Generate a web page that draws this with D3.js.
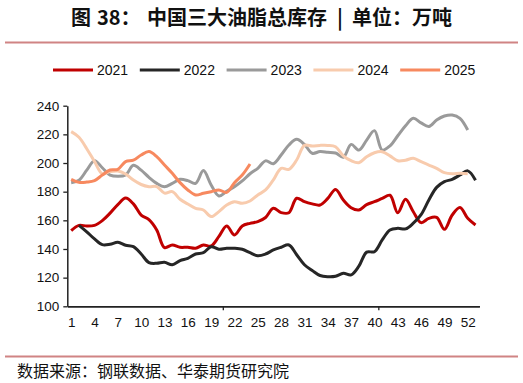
<!DOCTYPE html>
<html>
<head>
<meta charset="utf-8">
<script src="https://cdn.jsdelivr.net/npm/d3@7"></script>
<style>
  body { margin: 0; background: #fff; }
  svg { display: block; font-family: "Liberation Sans", Arial, sans-serif; }
</style>
</head>
<body>
<svg width="523" height="383"></svg>
<script>
// weekly stocks, 10k tonnes
var weeks = d3.range(1, 54);
var years = ["2021", "2022", "2023", "2024", "2025"];
var colors = ["#c00000", "#262626", "#9a9a9a", "#f8cbad", "#f7895f"];
var tickWeeks = [1, 4, 7, 10, 13, 16, 19, 22, 25, 28, 31, 34, 37, 40, 43, 46, 49, 52];
var yTicks = [100, 120, 140, 160, 180, 200, 220, 240];

var s2021 = [152.8, 156.5, 156, 156.5, 159.8, 165, 171, 175.5, 171.5, 163.7, 160.5, 153.3, 141, 142.8, 141.2, 141.2, 140.5, 142.8, 142.1, 148.8, 156.1, 149.8, 156.1, 157.9, 159.1, 162, 168.4, 165.4, 165.3, 175.4, 173, 171.5, 170.7, 175.3, 181.6, 174.2, 168.8, 167.2, 171, 173, 175.3, 177.5, 165.3, 174.7, 166, 158.4, 161.4, 162, 153.7, 163.7, 169, 161.4, 156.7];
var s2022 = [null, 156.5, 152, 147, 143, 143.3, 144.7, 142.6, 141.6, 136.5, 130.5, 130, 130.7, 129, 131.9, 133.5, 136.5, 137.4, 141.6, 139.8, 140.5, 140.5, 139.8, 137.4, 135.3, 136.5, 139.3, 141.2, 142.8, 136, 129, 125, 121.5, 120.7, 121, 123, 121.9, 128, 137.8, 138.1, 146.3, 153.3, 154.4, 154, 158, 164, 174.2, 183, 187, 188.6, 191.6, 194.5, 188];
var s2023 = [186.3, 188, 195, 201.6, 196.7, 191.6, 190.7, 191.6, 198.4, 195, 190, 185.8, 183.5, 185.8, 188.6, 187.7, 185.8, 194.7, 184.7, 177, 180.3, 183.5, 187.5, 192.5, 196.3, 201.5, 199.5, 205.6, 212.6, 216.5, 213, 206.8, 208, 207.5, 207, 204, 213, 209, 216, 222.6, 209, 212, 219, 226, 231.2, 228, 225.5, 230, 232.8, 233.5, 231.2, 223, null];
var s2024 = [221.9, 218, 210, 201, 192.5, 194, 194.4, 192.3, 188.1, 185, 183.5, 183.5, 179, 180, 174.7, 171.4, 168.4, 167.2, 162.6, 166.1, 170.7, 173, 171.9, 173.5, 177.7, 181.2, 188.2, 196.3, 195.6, 202.1, 212.3, 211.9, 212.3, 212.3, 211.4, 205, 201.6, 200.2, 204.4, 207.2, 207.9, 205, 201.6, 202, 203.3, 200.9, 198.6, 196.3, 193.3, 192.5, 192.8, 192.5, null];
var s2025 = [188.6, 186.5, 186.7, 187.7, 191.6, 195.1, 195.6, 201, 202, 205.6, 208, 204.5, 198.6, 192.8, 186.3, 181.2, 177.7, 178.9, 180, 181.2, 179.5, 186.3, 191.6, 199.3];
var series = [s2021, s2022, s2023, s2024, s2025];

var svg = d3.select("svg");
var cjk = '"Noto Sans CJK SC", "Liberation Sans", sans-serif';

// title, pieces placed so the gaps match
var title = svg.append("text")
  .attr("y", 25)
  .style("font-family", cjk)
  .style("font-size", "20px")
  .style("font-weight", "bold")
  .attr("fill", "#111");
title.append("tspan").attr("x", 71).text("图");
title.append("tspan").attr("x", 97).text("38：");
title.append("tspan").attr("x", 147).text("中国三大油脂总库存");
title.append("tspan").attr("x", 337).text("|");
title.append("tspan").attr("x", 352).text("单位：万吨");

svg.append("line").attr("x1", 5).attr("x2", 518).attr("y1", 42.5).attr("y2", 42.5)
  .attr("stroke", "#d08484").attr("stroke-width", 2);
svg.append("line").attr("x1", 5).attr("x2", 518).attr("y1", 356.5).attr("y2", 356.5)
  .attr("stroke", "#d08484").attr("stroke-width", 2);

svg.append("text")
  .attr("x", 17).attr("y", 377)
  .style("font-family", cjk)
  .style("font-size", "16px")
  .attr("fill", "#111")
  .text("数据来源：钢联数据、华泰期货研究院");

// scales
var x = d3.scaleLinear().domain([0.5, 53.5]).range([67.3, 479.4]);
var y = d3.scaleLinear().domain([100, 240]).range([306.3, 105.7]);

svg.append("g").attr("transform", "translate(67.3,0)")
  .call(d3.axisLeft(y).tickValues(yTicks).tickSize(4).tickSizeOuter(0).tickPadding(4));
svg.append("g").attr("transform", "translate(0,306.3)")
  .call(d3.axisBottom(x).tickValues(tickWeeks).tickSize(0).tickSizeOuter(0).tickPadding(11));
svg.append("g").attr("transform", "translate(0,306.3)")
  .call(d3.axisBottom(x).tickValues([20.5, 40.5]).tickFormat("").tickSize(4).tickSizeOuter(0));

svg.selectAll(".domain").attr("stroke", "#222").attr("stroke-width", 1.5);
svg.selectAll(".tick line").attr("stroke", "#222").attr("stroke-width", 1.3);
svg.selectAll(".tick text").style("font-size", "13.5px").attr("fill", "#111")
  .style("font-family", '"Liberation Sans", Arial, sans-serif');

// lines
var line = d3.line()
  .defined(function(d){ return d.v != null; })
  .x(function(d){ return x(d.w); })
  .y(function(d){ return y(d.v); })
  .curve(d3.curveCatmullRom.alpha(0.5));

series.forEach(function(s, i){
  var pts = s.map(function(v, j){ return {w: weeks[j], v: v}; });
  svg.append("path")
    .datum(pts)
    .attr("d", line)
    .attr("fill", "none")
    .attr("stroke", colors[i])
    .attr("stroke-width", 3)
    .attr("stroke-linejoin", "round");
});

// legend
var leg = svg.append("g").selectAll("g").data(years).join("g")
  .attr("transform", function(d, i){ return "translate(" + (53 + i * 86.8) + ",70)"; });
leg.append("line").attr("x1", 0).attr("x2", 40).attr("y1", 0).attr("y2", 0)
  .attr("stroke", function(d, i){ return colors[i]; }).attr("stroke-width", 3);
leg.append("text").attr("x", 44).attr("y", 5)
  .style("font-size", "14px").attr("fill", "#111")
  .text(function(d){ return d; });
</script>
</body>
</html>
